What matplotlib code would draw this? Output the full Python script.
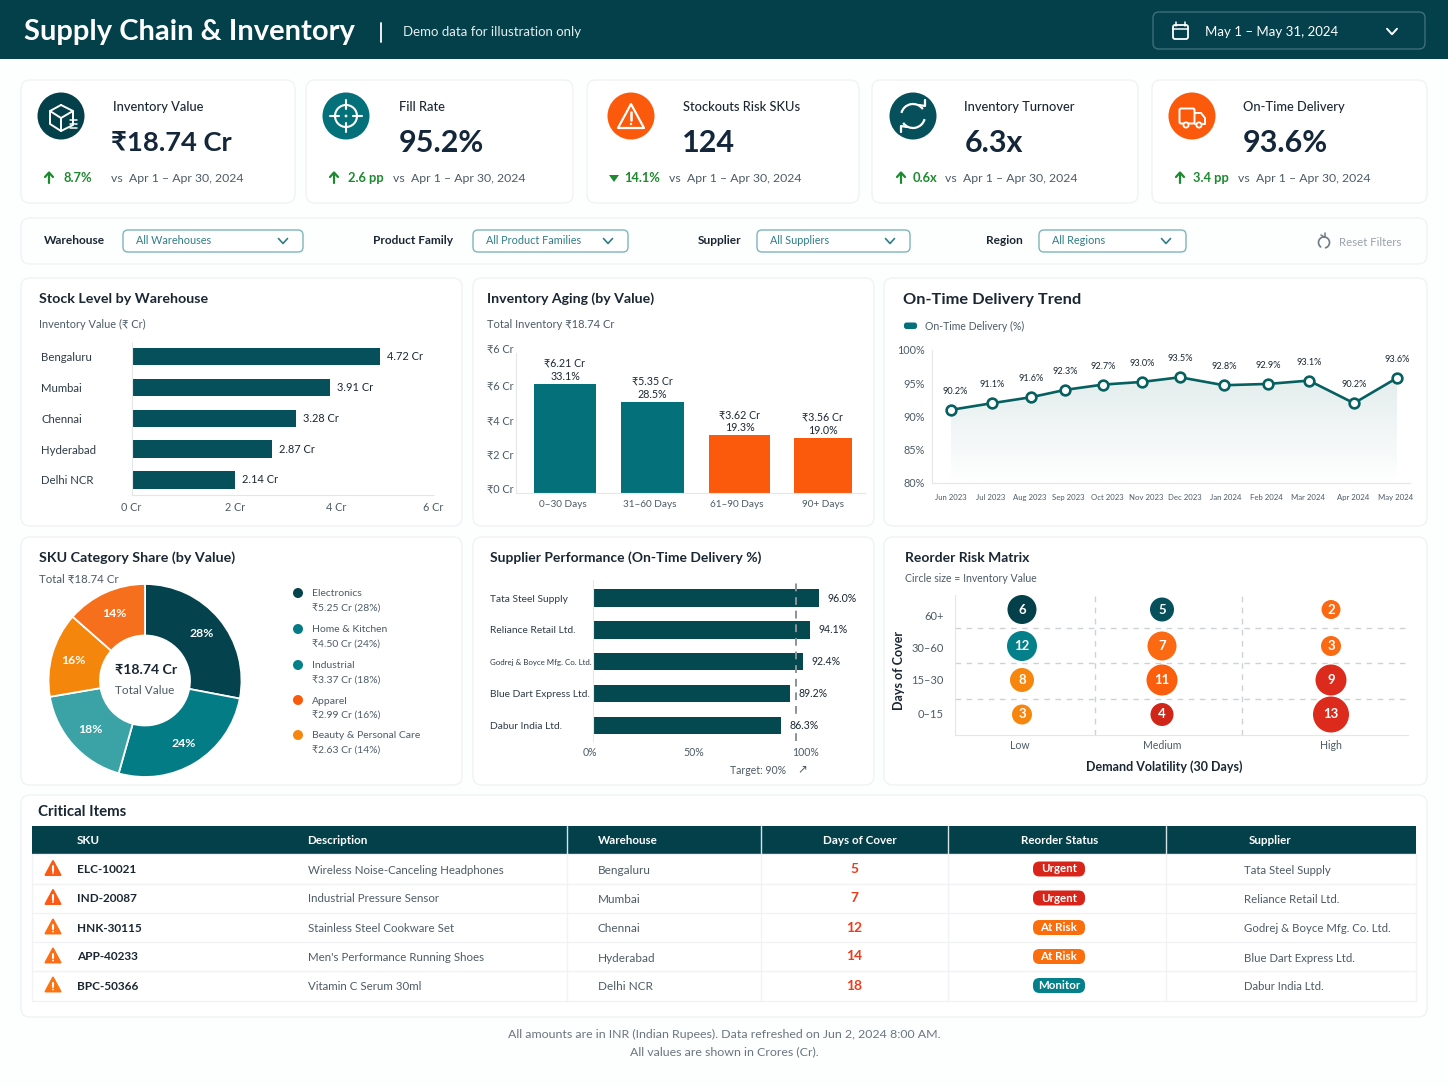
import numpy as np
import matplotlib
matplotlib.use('Agg')
import matplotlib.pyplot as plt
from matplotlib.patches import FancyBboxPatch, Circle, Polygon, Rectangle, Arc
from matplotlib.colors import LinearSegmentedColormap

plt.rcParams['font.family'] = ['Lato', 'DejaVu Sans']

W, H = 1448, 1086
DARK = '#03404a'
TEAL = '#04717a'
ORANGE = '#fb5a0c'
AMBER = '#f7860f'
RED = '#d9241a'
INK = '#1a2733'
GREY = '#4d5b66'
GREEN = '#1c8a2e'
EDGE = '#f0f2f4'

# --- data ---
kpi_labels = ['Inventory Value', 'Fill Rate', 'Stockouts Risk SKUs', 'Inventory Turnover', 'On-Time Delivery']
kpi_values = ['₹18.74 Cr', '95.2%', '124', '6.3x', '93.6%']
kpi_deltas = ['8.7%', '2.6 pp', '14.1%', '0.6x', '3.4 pp']

filter_labels = ['Warehouse', 'Product Family', 'Supplier', 'Region']
filter_values = ['All Warehouses', 'All Product Families', 'All Suppliers', 'All Regions']

# The marks in this dashboard do not sit where their printed labels say,
# so each chart keeps what the axis shows and what the label prints.
warehouses = ['Bengaluru', 'Mumbai', 'Chennai', 'Hyderabad', 'Delhi NCR']
stock_drawn = [4.85, 3.88, 3.22, 2.74, 2.02]
stock_printed = [4.72, 3.91, 3.28, 2.87, 2.14]

aging_labels = ['0–30 Days', '31–60 Days', '61–90 Days', '90+ Days']
aging_drawn = [6.32, 5.28, 3.36, 3.19]
aging_printed = [6.21, 5.35, 3.62, 3.56]
aging_share = [33.1, 28.5, 19.3, 19.0]
aging_ticklabels = ['₹0 Cr', '₹2 Cr', '₹4 Cr', '₹6 Cr', '₹6 Cr']

otd_months = ['Jun 2023', 'Jul 2023', 'Aug 2023', 'Sep 2023', 'Oct 2023', 'Nov 2023',
              'Dec 2023', 'Jan 2024', 'Feb 2024', 'Mar 2024', 'Apr 2024', 'May 2024']
otd_drawn = [91.0, 92.0, 92.9, 94.0, 94.8, 95.2, 95.9, 94.7, 94.9, 95.4, 92.0, 95.8]
otd_printed = ['90.2%', '91.1%', '91.6%', '92.3%', '92.7%', '93.0%', '93.5%', '92.8%', '92.9%', '93.1%', '90.2%', '93.6%']

categories = ['Electronics', 'Home & Kitchen', 'Industrial', 'Apparel', 'Beauty & Personal Care']
category_values = [5.25, 4.50, 3.37, 2.99, 2.63]
category_pct = [28, 24, 18, 16, 14]
category_drawn = [28.0, 26.4, 17.9, 14.2, 13.5]

suppliers = ['Tata Steel Supply', 'Reliance Retail Ltd.', 'Godrej & Boyce Mfg. Co. Ltd.',
             'Blue Dart Express Ltd.', 'Dabur India Ltd.']
supplier_drawn = [106.1, 101.9, 98.6, 92.5, 88.3]
supplier_printed = [96.0, 94.1, 92.4, 89.2, 86.3]
supplier_target = 95.3

risk_volatility = ['Low', 'Medium', 'High']
risk_cover = ['0–15', '15–30', '30–60', '60+']
risk_col = [0, 1, 2, 0, 1, 2, 0, 1, 2, 0, 1, 2]
risk_row = [3, 3, 3, 2, 2, 2, 1, 1, 1, 0, 0, 0]
risk_counts = [6, 5, 2, 12, 7, 3, 8, 11, 9, 3, 4, 13]
risk_radius = [14.5, 12, 9.5, 15, 14.5, 10, 12, 15.5, 15.5, 10, 11.5, 18]

table_sku = ['ELC-10021', 'IND-20087', 'HNK-30115', 'APP-40233', 'BPC-50366']
table_desc = ['Wireless Noise-Canceling Headphones', 'Industrial Pressure Sensor', 'Stainless Steel Cookware Set',
              "Men's Performance Running Shoes", 'Vitamin C Serum 30ml']
table_days = [5, 7, 12, 14, 18]
table_status = ['Urgent', 'Urgent', 'At Risk', 'At Risk', 'Monitor']

fig = plt.figure(figsize=(W / 100, H / 100), dpi=100, facecolor='#fdfefe')
bg = fig.add_axes([0, 0, 1, 1])
bg.set_xlim(0, W)
bg.set_ylim(H, 0)
bg.axis('off')


def px_axes(left, top, right, bottom):
    ax = fig.add_axes([left / W, 1 - bottom / H, (right - left) / W, (bottom - top) / H])
    ax.patch.set_alpha(0)
    ax.tick_params(length=0)
    for s in ax.spines.values():
        s.set_color('#e3e7ea')
    return ax


def panel(l, t, r, b, face='white', rad=9):
    bg.add_patch(FancyBboxPatch((l + rad, t + rad), r - l - 2 * rad, b - t - 2 * rad,
                                boxstyle=f'round,pad={rad},rounding_size={rad}',
                                fc=face, ec=EDGE, lw=1, zorder=1))


def txt(x, y, s, size=9, color=INK, weight='normal', ha='left', zorder=5, **kw):
    return bg.text(x, y + 1, s, fontsize=size, color=color, fontweight=weight, ha=ha, va='center', zorder=zorder, **kw)


def line(xs, ys, color='white', lw=1.5, **kw):
    bg.plot(xs, ys, color=color, lw=lw, solid_capstyle='round', solid_joinstyle='round', zorder=6, **kw)


def chevron(x, y, color, size=4.5, lw=1.2):
    line([x - size, x, x + size], [y - size * 0.55, y + size * 0.55, y - size * 0.55], color=color, lw=lw)


# --- header ---
bg.add_patch(Rectangle((0, 0), W, 59, fc=DARK, ec='none', zorder=2))
txt(24, 31, 'Supply Chain & Inventory', size=21, color='white', weight='bold', zorder=5)
line([381, 381], [23, 42], color='white', lw=1.3)
txt(403, 31.5, 'Demo data for illustration only', size=9.5, color='#e3eeee')
bg.add_patch(FancyBboxPatch((1159, 18), 260, 25, boxstyle='round,pad=6,rounding_size=6',
                            fc='#04414c', ec='#3f6f77', lw=1, zorder=3))
bg.add_patch(FancyBboxPatch((1174, 26), 13, 12, boxstyle='round,pad=1,rounding_size=2',
                            fc='none', ec='white', lw=1.3, zorder=6))
line([1173, 1188], [29, 29], lw=1.1)
line([1176, 1176], [22, 26], lw=1.1)
line([1185, 1185], [22, 26], lw=1.1)
txt(1205, 31, 'May 1 – May 31, 2024', size=9.5, color='white')
chevron(1392, 31.5, 'white', size=5, lw=1.4)

# --- kpi cards ---
card_boxes = [(21, 295), (306, 573), (587, 859), (872, 1138), (1152, 1427)]
icon_x = [61, 346, 631, 913, 1192]
icon_colors = [DARK, TEAL, ORANGE, '#05505a', ORANGE]
label_x = [113, 399, 683, 964, 1243]
value_x = [111, 399, 682, 965, 1243]
value_size = [19.7, 22, 22, 22, 22]
arrow_x = [49, 334, 614, 901, 1180]
delta_x = [63, 348, 624, 913, 1193]
vs_x = [111, 393, 669, 945, 1238]
for i in range(5):
    panel(card_boxes[i][0], 80, card_boxes[i][1], 203)
    bg.add_patch(Circle((icon_x[i], 116), 23.5, fc=icon_colors[i], ec='none', zorder=4))
    txt(label_x[i], 106, kpi_labels[i], size=9.3, weight='medium')
    txt(value_x[i], 142, kpi_values[i], size=value_size[i], color='#13263a', weight='bold')
    if i == 2:
        bg.add_patch(Polygon([[609, 175], [619, 175], [614, 182]], fc=GREEN, ec='none', zorder=6))
    else:
        line([arrow_x[i]] * 2, [183, 173], color=GREEN, lw=1.6)
        line([arrow_x[i] - 4, arrow_x[i], arrow_x[i] + 4], [177, 172.5, 177], color=GREEN, lw=1.6)
    txt(delta_x[i], 177.5, kpi_deltas[i], size=9.3, color=GREEN, weight='bold')
    txt(vs_x[i], 177.5, 'vs  Apr 1 – Apr 30, 2024', size=8.8, color=GREY)

# cube icon
line([61, 73, 73, 61, 50, 50, 61], [105, 111, 125, 131, 124, 111, 105], lw=1.4)
line([50, 61, 73], [111, 118, 111], lw=1.4)
line([61, 61], [118, 131], lw=1.4)
for yy in [120, 124, 128]:
    line([70, 77], [yy, yy], lw=1.1)
# target icon
bg.add_patch(Circle((346, 116), 11, fc='none', ec='white', lw=1.5, zorder=6))
line([346, 346], [100, 109], lw=1.5)
line([346, 346], [123, 132], lw=1.5)
line([330, 339], [116, 116], lw=1.5)
line([353, 362], [116, 116], lw=1.5)
bg.add_patch(Circle((346, 116), 1.4, fc='white', ec='none', zorder=6))
# alert icon
bg.add_patch(Polygon([[631, 104], [644, 128], [618, 128]], fc='none', ec='white', lw=1.6, joinstyle='round', zorder=6))
line([631, 631], [112, 120], lw=1.8)
bg.add_patch(Circle((631, 124), 1.2, fc='white', ec='none', zorder=6))
# refresh icon
bg.add_patch(Arc((913, 116), 24, 24, theta1=195, theta2=325, ec='white', lw=1.6, zorder=6))
bg.add_patch(Arc((913, 116), 24, 24, theta1=15, theta2=145, ec='white', lw=1.6, zorder=6))
line([919, 925, 925], [105, 106, 100], lw=1.6)
line([907, 901, 901], [127, 126, 132], lw=1.6)
# truck icon
bg.add_patch(FancyBboxPatch((1180, 109), 14, 14, boxstyle='round,pad=0.5,rounding_size=1.5',
                            fc='none', ec='white', lw=1.4, zorder=6))
line([1195, 1201, 1205, 1205, 1195], [113, 113, 118, 124, 124], lw=1.4)
bg.add_patch(Circle((1186, 125), 2.6, fc=ORANGE, ec='white', lw=1.3, zorder=7))
bg.add_patch(Circle((1199, 125), 2.6, fc=ORANGE, ec='white', lw=1.3, zorder=7))

# --- filter bar ---
panel(21, 218, 1427, 264, face='#fdfefe')
filter_lx = [44, 373, 698, 986]
filter_box = [(123, 303), (473, 628), (757, 910), (1039, 1186)]
for i in range(4):
    txt(filter_lx[i], 240, filter_labels[i], size=8.6, weight='bold')
    l, r = filter_box[i]
    bg.add_patch(FancyBboxPatch((l + 5, 235), r - l - 10, 12, boxstyle='round,pad=5,rounding_size=5',
                                fc='white', ec='#7db6bb', lw=1, zorder=3))
    txt(l + 13, 240, filter_values[i], size=7.8, color='#2f7c86')
    chevron(r - 20, 241, '#2f7c86', size=4.5)
bg.add_patch(Arc((1324, 242.5), 11, 11, theta1=-240, theta2=80, ec='#6f7b84', lw=1.2, zorder=6))
line([1321, 1325, 1325], [235, 237.5, 233], color='#6f7b84', lw=1.1)
txt(1339, 242, 'Reset Filters', size=8.2, color='#9aa3aa')

# --- panels ---
panel(21, 278, 462, 526)
panel(473, 278, 874, 526)
panel(884, 278, 1427, 526)
panel(21, 537, 462, 785)
panel(473, 537, 874, 785)
panel(884, 537, 1427, 785)
panel(21, 795, 1427, 1017)

# stock level
txt(39, 298, 'Stock Level by Warehouse', size=10.3, weight='bold')
txt(39, 323, 'Inventory Value (₹ Cr)', size=7.9, color=GREY)
ax = px_axes(131.5, 342, 444, 495)
ax.barh(range(5), stock_drawn, height=0.56, color='#05505a')
ax.set_xticks([0, 2.03, 4.0, 5.9], ['0 Cr', '2 Cr', '4 Cr', '6 Cr'], fontsize=7.8, color=GREY)
ax.set_yticks(range(5), warehouses, fontsize=8.2, color='#2f3c47')
ax.set_xlim(0, 312.5 / 51.2)
ax.set_ylim(4.49, -0.47)
ax.tick_params(axis='y', pad=65)
ax.tick_params(axis='x', pad=5)
for t in ax.get_yticklabels():
    t.set_ha('left')
ax.spines['top'].set_visible(False)
ax.spines['right'].set_visible(False)
ax.spines['bottom'].set_bounds(0, 5.9)
for i, v in enumerate(stock_drawn):
    ax.annotate(f'{stock_printed[i]:.2f} Cr', (v, i), xytext=(5, 0), textcoords='offset points', va='center',
                fontsize=7.9, color=INK)

# inventory aging
txt(487, 298, 'Inventory Aging (by Value)', size=10.2, weight='bold')
txt(487, 323, 'Total Inventory ₹18.74 Cr', size=8, color=GREY)
ax = px_axes(516, 345, 865, 493)
aging_x = [0, 1.02, 2.03, 3]
ax.bar(aging_x, aging_drawn, width=[0.73, 0.74, 0.71, 0.675], color=[TEAL, TEAL, ORANGE, ORANGE])
ax.set_xticks([-0.03, 0.99, 2, 3], aging_labels, fontsize=7.2, color=GREY)
# tick labels sit a little above their tick positions in the picture
ax.set_yticks([0.3, 2.27, 4.24, 6.27, 8.37], aging_ticklabels, fontsize=7.8, color=GREY)
ax.set_xlim(-0.57, 3.49)
ax.set_ylim(0, 148 / 17.25)
ax.tick_params(axis='y', pad=2)
ax.tick_params(axis='x', pad=5)
ax.spines['top'].set_visible(False)
ax.spines['right'].set_visible(False)
ax.spines['left'].set_bounds(0, 140 / 17.25)
for i, v in enumerate(aging_drawn):
    ax.annotate(f'₹{aging_printed[i]:.2f} Cr\n{aging_share[i]:.1f}%', (aging_x[i], v), xytext=(0, 1.5),
                textcoords='offset points', ha='center', va='bottom', fontsize=7.7, color=INK, linespacing=1.2)

# on-time delivery trend
txt(903, 299, 'On-Time Delivery Trend', size=11.8, weight='bold')
bg.add_patch(FancyBboxPatch((906.5, 325), 8, 1.5, boxstyle='round,pad=2.5,rounding_size=2.5', fc=TEAL, ec='none', zorder=5))
txt(925, 325, 'On-Time Delivery (%)', size=7.6, color=GREY)
ax = px_axes(932, 350, 1410, 483)
otd_x = [951, 992, 1031, 1065, 1103, 1142, 1180, 1224, 1268, 1309, 1354, 1397]
otd_tick_x = [951, 991, 1030, 1068, 1107, 1146, 1185, 1226, 1266, 1308, 1353, 1396]
ax.set_ylim(80, 100)
cmap = LinearSegmentedColormap.from_list('fade', ['#ffffff', '#e3ecec'])
im = ax.imshow(np.linspace(1, 0, 64).reshape(-1, 1), extent=[otd_x[0], otd_x[-1], 80, 96.5], aspect='auto', cmap=cmap, origin='upper', zorder=1)
clip = ax.fill_between(otd_x, 80, otd_drawn, color='none')
im.set_clip_path(clip.get_paths()[0], transform=ax.transData)
ax.plot(otd_x, otd_drawn, color='#05605f', lw=1.9, marker='o', ms=7, mfc='white', mec='#05605f', mew=1.9, zorder=3)
ax.set_xticks(otd_tick_x, otd_months, fontsize=5.6, color=GREY)
ax.set_yticks([80, 85, 90, 95, 100], ['80%', '85%', '90%', '95%', '100%'], fontsize=7.8, color=GREY)
ax.set_xlim(932, 1410)
ax.set_ylim(80, 100)
ax.tick_params(axis='y', pad=5)
ax.tick_params(axis='x', pad=8)
ax.spines['top'].set_visible(False)
ax.spines['right'].set_visible(False)
for i, lab in enumerate(otd_printed):
    ax.annotate(lab, (otd_x[i], otd_drawn[i]), xytext=(3 if i == 0 else 0, 10), textcoords='offset points',
                ha='center', va='bottom', fontsize=6.6, color=INK)

# sku category share
txt(39, 557, 'SKU Category Share (by Value)', size=10.3, weight='bold')
txt(39, 578, 'Total ₹18.74 Cr', size=8.3, color=GREY)
ax = px_axes(45, 580.5, 245, 780.5)
donut_colors = ['#04424e', '#047c85', '#3ba3a6', '#f5860c', '#f56f1c']
wedges, _ = ax.pie(category_drawn, colors=donut_colors, startangle=90, counterclock=False, radius=96.5 / 100,
                   wedgeprops=dict(width=51.5 / 100, edgecolor='white', linewidth=1.3))
ax.set_xlim(-1, 1)
ax.set_ylim(-1, 1)
for w, p in zip(wedges, category_pct):
    ang = np.deg2rad((w.theta1 + w.theta2) / 2)
    ax.text(0.74 * np.cos(ang), 0.74 * np.sin(ang), f'{p}%', color='white', fontsize=8.8, fontweight='bold',
            ha='center', va='center')
ax.text(0.01, 0.105, '₹18.74 Cr', fontsize=10.2, fontweight='bold', color=INK, ha='center', va='center')
ax.text(0, -0.095, 'Total Value', fontsize=8.5, color=GREY, ha='center', va='center')
legend_y = [593, 629, 665, 700, 735]
legend_colors = ['#04424e', '#047c85', '#04808a', ORANGE, AMBER]
for i, name in enumerate(categories):
    bg.add_patch(Circle((298, legend_y[i]), 5, fc=legend_colors[i], ec='none', zorder=5))
    txt(312, legend_y[i], name, size=7.5, color=GREY)
    txt(312, legend_y[i] + 14.5, f'₹{category_values[i]:.2f} Cr ({category_pct[i]}%)', size=7.5, color=GREY)

# supplier performance
txt(490, 557, 'Supplier Performance (On-Time Delivery %)', size=10, weight='bold')
ax = px_axes(590, 580, 850, 741)
# moving a spine resets the ticks, so this has to come before they are set
ax.spines['left'].set_position(('data', 0))
ax.barh(range(5), supplier_drawn, height=0.54, color='#04494f')
ax.set_xticks([-1.4, 47.4, 100], ['0%', '50%', '100%'], fontsize=7.6, color=GREY)
ax.set_yticks(range(5), suppliers, fontsize=7.4, color='#2f3c47')
ax.set_xlim(-1.41, 260 / 2.13 - 1.41)
ax.set_ylim(4.48, -0.565)
ax.tick_params(axis='y', pad=74)
ax.tick_params(axis='x', pad=4.5)
for t in ax.get_yticklabels():
    t.set_ha('left')
ax.get_yticklabels()[2].set_fontsize(5.7)
ax.axvline(supplier_target, color='#8a9299', lw=1.4, ls=(0, (4, 3)), zorder=4)
for s in ['top', 'right', 'bottom']:
    ax.spines[s].set_visible(False)
for i, v in enumerate(supplier_drawn):
    # the last label sits on the target line and masks it
    box = dict(fc='white', ec='none', pad=0.8) if i == 4 else None
    ax.annotate(f'{supplier_printed[i]:.1f}%', (v, i), xytext=(6, 0), textcoords='offset points', va='center',
                fontsize=7.6, color=INK, bbox=box, zorder=5)
txt(758, 770, 'Target: 90%', size=7.6, color=GREY, ha='center')
txt(802, 768, '↗', size=8.5, color=GREY, ha='center', family=['DejaVu Sans'])

# reorder risk matrix
txt(905, 557, 'Reorder Risk Matrix', size=10, weight='bold')
txt(905, 577, 'Circle size = Inventory Value', size=7.6, color=GREY)
ax = px_axes(955, 595, 1408, 735)
# Column and row centres are not evenly spaced in the picture
col_pos = [1022, 1162, 1331]
row_pos = [714.5, 680, 646, 609.5]
px = [col_pos[c] for c in risk_col]
py = [row_pos[r] for r in risk_row]
risk_colors = [DARK, '#05505a', '#fb6a12', '#04808a', '#fb6a12', '#fb6a12', AMBER, '#fb5f0e', '#dc2a1c', AMBER, '#d0261a', '#dc2a1c']
ax.scatter(px, py, s=[(2 * r * 0.72) ** 2 for r in risk_radius], c=risk_colors, linewidths=0, zorder=3)
for xx, yy, n in zip(px, py, risk_counts):
    ax.text(xx, yy, str(n), color='white', fontsize=9.5, fontweight='bold', ha='center', va='center', zorder=4)
for xv in [1095, 1242]:
    ax.axvline(xv, color='#cdd2d6', lw=1, ls=(0, (4, 4)), zorder=1)
for yv in [628, 663, 699]:
    ax.axhline(yv, color='#cdd2d6', lw=1, ls=(0, (4, 4)), zorder=1)
ax.set_xticks([1020, 1162, 1331], risk_volatility, fontsize=7.6, color=GREY)
ax.set_yticks([714, 680, 647, 615], risk_cover, fontsize=8, color=GREY)
ax.set_xlim(955, 1408)
ax.set_ylim(735, 595)
ax.tick_params(axis='x', pad=3.5)
ax.tick_params(axis='y', pad=8)
ax.spines['top'].set_visible(False)
ax.spines['right'].set_visible(False)
txt(899, 669, 'Days of Cover', size=9, weight='bold', ha='center', rotation=90)
txt(1164, 766, 'Demand Volatility (30 Days)', size=9, weight='bold', ha='center')

# --- critical items table ---
txt(38, 811, 'Critical Items', size=10.8, weight='bold')
bg.add_patch(Rectangle((32, 826), 1384, 28, fc=DARK, ec='none', zorder=2))
bg.add_patch(Rectangle((32, 854), 1384, 147, fc='white', ec=EDGE, lw=1, zorder=2))
col_lines = [567, 761, 948, 1166]
for cx in col_lines:
    line([cx, cx], [826, 854], color='#d8e3e5', lw=1)
    line([cx, cx], [854, 1001], color='#f0f2f4', lw=1)
row_y = [869, 898, 927.5, 956.5, 985.5]
for yy in [883.5, 912.5, 942, 971]:
    line([32, 1416], [yy, yy], color='#f0f2f4', lw=1)
txt(77, 840, 'SKU', size=8.4, color='white', weight='bold')
txt(307, 840, 'Description', size=8.4, color='white', weight='bold')
txt(598, 840, 'Warehouse', size=8.4, color='white', weight='bold')
txt(860, 840, 'Days of Cover', size=8.4, color='white', weight='bold', ha='center')
txt(1060, 840, 'Reorder Status', size=8.4, color='white', weight='bold', ha='center')
txt(1270, 840, 'Supplier', size=8.4, color='white', weight='bold', ha='center')
status_colors = {'Urgent': RED, 'At Risk': '#fb6e0e', 'Monitor': '#04808a'}
tri_colors = ['#fb5a14', '#fb5a14', '#fb6e14', '#fb6e14', '#fb7414']
for i, yy in enumerate(row_y):
    bg.add_patch(Polygon([[53, yy - 8], [60.5, yy + 6], [45.5, yy + 6]], fc=tri_colors[i], ec=tri_colors[i], lw=1.4, joinstyle='round', zorder=5))
    line([53, 53], [yy - 3, yy + 1.5], lw=1.5)
    bg.add_patch(Circle((53, yy + 4), 0.9, fc='white', ec='none', zorder=6))
    txt(77, yy - 0.5, table_sku[i], size=8.5, weight='bold')
    txt(308, yy, table_desc[i], size=8.3, color=GREY)
    txt(598, yy + 0.5, warehouses[i], size=8.5, color=GREY)
    txt(854, yy - 1, str(table_days[i]), size=10, color='#ee3a1a', weight='bold', ha='center')
    bg.add_patch(FancyBboxPatch((1039, yy - 1.5), 40, 3, boxstyle='round,pad=6,rounding_size=6.5',
                                fc=status_colors[table_status[i]], ec='none', zorder=5))
    txt(1059, yy - 1, table_status[i], size=8.3, color='white', weight='bold', ha='center', zorder=7)
    txt(1244, yy + 0.5, suppliers[i], size=8.2, color=GREY)

# --- footer ---
txt(724, 1033.5, 'All amounts are in INR (Indian Rupees). Data refreshed on Jun 2, 2024 8:00 AM.', size=8.9, color='#6b7680', ha='center')
txt(724, 1051, 'All values are shown in Crores (Cr).', size=8.9, color='#6b7680', ha='center')

fig.savefig('out.png', dpi=100, facecolor=fig.get_facecolor())
